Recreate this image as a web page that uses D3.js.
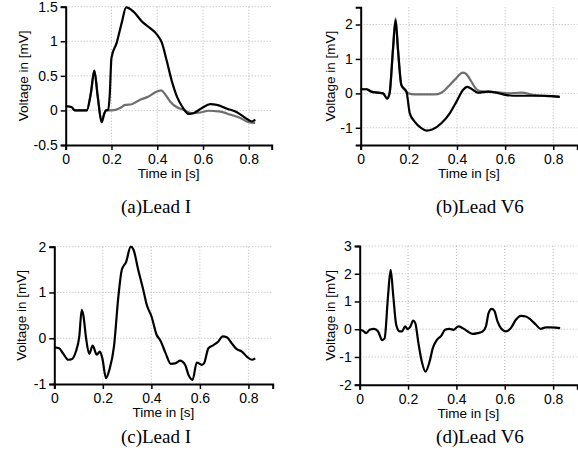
<!DOCTYPE html>
<meta charset="utf-8">
<style>
body { margin: 0; background: #fff; }
svg { display: block; }
.tick text { font: 14px "Liberation Sans", Arial, sans-serif; fill: #000; }
.lab { font: 13.5px "Liberation Sans", Arial, sans-serif; fill: #000; }
.cap { font: 19px "Liberation Serif", "Times New Roman", serif; fill: #000; }
.grid { stroke: #b8b8b8; stroke-width: 1; stroke-dasharray: 1,2; }
</style>
<svg id="chart" width="578" height="461"></svg>
<script src="https://cdnjs.cloudflare.com/ajax/libs/d3/7.8.5/d3.min.js"></script>
<script>
// tick values
var xTicks = [0, 0.2, 0.4, 0.6, 0.8];
var yTicksA = [-0.5, 0, 0.5, 1, 1.5];
var yTicksB = [-1, 0, 1, 2];
var yTicksC = [-1, 0, 1, 2];
var yTicksD = [-2, -1, 0, 1, 2, 3];

// (a) Lead I, [time s, voltage mV]
var leadIaBlack = [[0,0.06],[0.025,0.05],[0.04,0.0],[0.06,0.0],[0.092,0.0],[0.11,0.25],[0.125,0.575],[0.14,0.2],[0.157,-0.17],[0.168,-0.05],[0.176,0.0],[0.185,0.01],[0.192,0.2],[0.2,0.76],[0.223,0.98],[0.245,1.27],[0.264,1.49],[0.296,1.43],[0.332,1.29],[0.369,1.19],[0.398,1.1],[0.42,0.98],[0.442,0.71],[0.464,0.42],[0.486,0.2],[0.508,0.06],[0.537,-0.05],[0.558,-0.04],[0.595,0.035],[0.632,0.09],[0.66,0.08],[0.705,0.025],[0.748,-0.025],[0.792,-0.125],[0.814,-0.16],[0.828,-0.13]];
var leadIaGray = [[0,0.06],[0.025,0.05],[0.04,0.0],[0.06,0.0],[0.092,0.0],[0.11,0.25],[0.125,0.575],[0.14,0.2],[0.157,-0.17],[0.168,-0.05],[0.176,0.0],[0.2,0.0],[0.238,0.035],[0.26,0.08],[0.289,0.09],[0.325,0.155],[0.362,0.2],[0.39,0.26],[0.417,0.29],[0.435,0.23],[0.456,0.13],[0.486,0.045],[0.515,0.01],[0.551,-0.04],[0.588,-0.03],[0.624,-0.005],[0.668,-0.015],[0.719,-0.06],[0.763,-0.11],[0.8,-0.17],[0.828,-0.18]];

// (b) Lead V6
var leadV6bBlack = [[0,0.12],[0.024,0.12],[0.044,0.05],[0.07,0.02],[0.093,0.0],[0.11,-0.15],[0.12,0.0],[0.134,1.25],[0.145,2.12],[0.155,1.25],[0.169,0.24],[0.19,0.05],[0.204,-0.58],[0.224,-0.82],[0.252,-1.01],[0.273,-1.08],[0.3,-1.04],[0.335,-0.87],[0.37,-0.58],[0.398,-0.24],[0.425,0.1],[0.443,0.19],[0.467,0.1],[0.488,0.02],[0.529,0.05],[0.564,0.02],[0.605,-0.05],[0.654,-0.07],[0.709,-0.07],[0.75,-0.07],[0.792,-0.08],[0.827,-0.1]];
var leadV6bGray = [[0,0.12],[0.024,0.12],[0.044,0.05],[0.07,0.02],[0.093,0.0],[0.11,-0.15],[0.12,0.0],[0.134,1.3],[0.145,2.18],[0.155,1.3],[0.169,0.24],[0.19,0.05],[0.197,0.0],[0.224,-0.03],[0.307,-0.03],[0.335,0.02],[0.363,0.19],[0.391,0.4],[0.425,0.6],[0.439,0.56],[0.46,0.34],[0.481,0.12],[0.502,0.06],[0.557,0.04],[0.612,0.0],[0.668,0.02],[0.723,-0.05],[0.79,-0.08],[0.827,-0.1]];

// (c) Lead I
var leadIc = [[0,-0.2],[0.02,-0.22],[0.037,-0.34],[0.058,-0.47],[0.071,-0.46],[0.089,-0.29],[0.103,0.04],[0.113,0.62],[0.12,0.49],[0.131,0.0],[0.144,-0.34],[0.158,-0.16],[0.175,-0.36],[0.188,-0.29],[0.198,-0.44],[0.213,-0.87],[0.227,-0.69],[0.246,-0.18],[0.264,0.91],[0.278,1.49],[0.296,1.67],[0.315,2.0],[0.326,1.94],[0.346,1.49],[0.367,1.05],[0.381,0.73],[0.401,0.47],[0.422,0.07],[0.436,-0.04],[0.459,-0.33],[0.48,-0.56],[0.498,-0.55],[0.518,-0.49],[0.539,-0.58],[0.553,-0.8],[0.57,-0.91],[0.587,-0.53],[0.608,-0.58],[0.617,-0.55],[0.635,-0.22],[0.656,-0.15],[0.676,-0.07],[0.694,0.04],[0.711,0.02],[0.731,-0.11],[0.752,-0.24],[0.773,-0.29],[0.793,-0.4],[0.814,-0.47],[0.828,-0.44]];

// (d) Lead V6
var leadV6d = [[0,-0.02],[0.014,-0.06],[0.027,-0.14],[0.041,-0.02],[0.059,0.01],[0.076,-0.08],[0.093,-0.39],[0.103,-0.33],[0.117,1.18],[0.128,2.14],[0.139,1.18],[0.151,0.16],[0.165,-0.08],[0.175,-0.08],[0.188,0.1],[0.199,0.0],[0.21,0.1],[0.221,0.31],[0.23,0.22],[0.243,-0.51],[0.257,-1.17],[0.272,-1.53],[0.289,-1.17],[0.302,-0.69],[0.319,-0.39],[0.337,-0.24],[0.353,-0.02],[0.371,0.01],[0.389,-0.02],[0.408,0.1],[0.426,0.04],[0.447,-0.08],[0.467,-0.17],[0.488,-0.14],[0.509,-0.08],[0.522,0.1],[0.533,0.58],[0.546,0.73],[0.557,0.66],[0.57,0.28],[0.584,0.04],[0.605,-0.08],[0.625,0.04],[0.646,0.34],[0.667,0.48],[0.687,0.46],[0.708,0.34],[0.729,0.16],[0.749,0.01],[0.77,0.07],[0.79,0.07],[0.811,0.06],[0.829,0.04]];

var panels = [
  {x0: 65.7, x1: 271.7, yT: 6.7, yB: 145, yDom: [-0.5, 1.5], yTicks: yTicksA,
   series: [[leadIaGray, "#6e6e6e"], [leadIaBlack, "#000"]], labX: 23, cap: "(a)Lead I", capX: 156, capY: 213},
  {x0: 360.7, x1: 577.3, yT: 7.3, yB: 145, yDom: [-1.5, 2.5], yTicks: yTicksB,
   series: [[leadV6bGray, "#6e6e6e"], [leadV6bBlack, "#000"]], labX: 330, cap: "(b)Lead V6", capX: 480, capY: 213},
  {x0: 54.3, x1: 272.7, yT: 246.7, yB: 384, yDom: [-1, 2], yTicks: yTicksC,
   series: [[leadIc, "#000"]], labX: 21, cap: "(c)Lead I", capX: 156, capY: 443},
  {x0: 359.7, x1: 577.3, yT: 246, yB: 384.7, yDom: [-2, 3], yTicks: yTicksD,
   series: [[leadV6d, "#000"]], labX: 330, cap: "(d)Lead V6", capX: 480, capY: 443}
];

var svg = d3.select("#chart");
var fmt = function(d) { return String(d); };

panels.forEach(function(p) {
  var x = d3.scaleLinear().domain([0, 0.9]).range([p.x0, p.x1]);
  var y = d3.scaleLinear().domain(p.yDom).range([p.yB, p.yT]);
  var g = svg.append("g");

  // dotted grid
  g.selectAll(".gy").data(p.yTicks.filter(function(d) { return d !== p.yDom[0]; }))
    .enter().append("line").attr("class", "grid")
    .attr("x1", p.x0).attr("x2", p.x1)
    .attr("y1", function(d) { return y(d); }).attr("y2", function(d) { return y(d); });
  g.selectAll(".gx").data(xTicks.filter(function(d) { return d !== 0; }))
    .enter().append("line").attr("class", "grid")
    .attr("y1", p.yT).attr("y2", p.yB)
    .attr("x1", function(d) { return x(d); }).attr("x2", function(d) { return x(d); });

  var line = d3.line()
    .x(function(d) { return x(d[0]); })
    .y(function(d) { return y(d[1]); })
    .curve(d3.curveMonotoneX);

  p.series.forEach(function(s) {
    g.append("path").datum(s[0])
      .attr("fill", "none").attr("stroke", s[1])
      .attr("stroke-width", 2.2).attr("stroke-linejoin", "round")
      .attr("d", line);
  });

  var ax = g.append("g").attr("transform", "translate(0," + p.yB + ")")
    .call(d3.axisBottom(x).tickValues(xTicks).tickFormat(fmt).tickSizeOuter(0).tickSize(5).tickPadding(4));
  var ay = g.append("g").attr("transform", "translate(" + p.x0 + ",0)")
    .call(d3.axisLeft(y).tickValues(p.yTicks).tickFormat(fmt).tickSizeOuter(0).tickSize(5).tickPadding(3));
  [ax, ay].forEach(function(a) {
    a.select(".domain").attr("stroke", "#000").attr("stroke-width", 2);
    a.selectAll(".tick line").attr("stroke", "#000").attr("stroke-width", 1.5);
    a.attr("font-family", null).attr("font-size", null);
  });

  g.append("text").attr("class", "lab")
    .attr("x", (p.x0 + p.x1) / 2).attr("y", p.yB + 33)
    .attr("text-anchor", "middle").text("Time in [s]");
  g.append("text").attr("class", "lab")
    .attr("transform", "translate(" + p.labX + "," + ((p.yT + p.yB) / 2) + ") rotate(-90)")
    .attr("dy", "0.35em").attr("text-anchor", "middle").text("Voltage in [mV]");
  g.append("text").attr("class", "cap")
    .attr("x", p.capX).attr("y", p.capY)
    .attr("text-anchor", "middle").text(p.cap);
});
</script>
